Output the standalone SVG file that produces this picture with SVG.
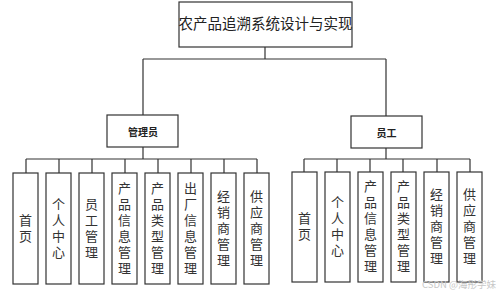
<svg xmlns="http://www.w3.org/2000/svg" width="499" height="293" viewBox="0 0 499 293">
<style>
.box{fill:#fff;stroke:#333;stroke-width:1.2}
.ln{fill:none;stroke:#333;stroke-width:1.2}
.t{font-family:"Noto Sans CJK SC","Noto Sans",sans-serif;fill:#222}
.v{font-family:"Noto Sans CJK SC","Noto Sans",sans-serif;fill:#333;font-size:13px;writing-mode:vertical-rl;text-anchor:middle;letter-spacing:3px}
</style>
<rect width="499" height="293" fill="#fff"/>
<g id="connectors">
<path class="ln" d="M265,47V59M143,59H386M143,59V115M386,59V116"/>
<path class="ln" d="M143,147V159M26,159H257M26,159V173M59,159V173M92,159V173M125,159V173M158,159V173M191,159V173M224,159V173M257,159V173"/>
<path class="ln" d="M386,148V159M304,159H470M304,159V172M337,159V172M370,159V172M403,159V172M437,159V172M470,159V172"/>
</g>
<g id="root"><rect class="box" x="179" y="2" width="173" height="45"/><text class="t" x="265.5" y="29" font-size="14.5" text-anchor="middle">农产品追溯系统设计与实现</text></g>
<g id="admin"><rect class="box" x="107" y="115" width="71" height="32"/><text class="t" x="143" y="135.5" font-size="10" font-weight="bold" text-anchor="middle">管理员</text></g>
<g id="staff"><rect class="box" x="351" y="116" width="71" height="32"/><text class="t" x="386.5" y="136.5" font-size="10" font-weight="bold" text-anchor="middle">员工</text></g>
<g id="a1"><rect class="box" x="13" y="173" width="25" height="111"/><text class="v" x="25.5" y="230">首页</text></g>
<g id="a2"><rect class="box" x="46" y="173" width="25" height="111"/><text class="v" x="58.5" y="230">个人中心</text></g>
<g id="a3"><rect class="box" x="79" y="173" width="25" height="111"/><text class="v" x="91.5" y="230">员工管理</text></g>
<g id="a4"><rect class="box" x="112" y="173" width="25" height="111"/><text class="v" x="124.5" y="230">产品信息管理</text></g>
<g id="a5"><rect class="box" x="145" y="173" width="25" height="111"/><text class="v" x="157.5" y="230">产品类型管理</text></g>
<g id="a6"><rect class="box" x="178" y="173" width="25" height="111"/><text class="v" x="190.5" y="230">出厂信息管理</text></g>
<g id="a7"><rect class="box" x="211" y="173" width="25" height="111"/><text class="v" x="223.5" y="230">经销商管理</text></g>
<g id="a8"><rect class="box" x="244" y="173" width="25" height="111"/><text class="v" x="256.5" y="230">供应商管理</text></g>
<g id="s1"><rect class="box" x="292" y="172" width="25" height="110"/><text class="v" x="304.5" y="228">首页</text></g>
<g id="s2"><rect class="box" x="325" y="172" width="25" height="110"/><text class="v" x="337.5" y="228">个人中心</text></g>
<g id="s3"><rect class="box" x="358" y="172" width="25" height="110"/><text class="v" x="370.5" y="228">产品信息管理</text></g>
<g id="s4"><rect class="box" x="391" y="172" width="25" height="110"/><text class="v" x="403.5" y="228">产品类型管理</text></g>
<g id="s5"><rect class="box" x="424" y="172" width="25" height="110"/><text class="v" x="436.5" y="228">经销商管理</text></g>
<g id="s6"><rect class="box" x="457" y="172" width="25" height="110"/><text class="v" x="469.5" y="228">供应商管理</text></g>
<text x="496" y="288" font-family="'Noto Sans CJK SC','Noto Sans',sans-serif" font-size="9.5" fill="#c8c8c8" text-anchor="end">CSDN @海彤学妹</text>
</svg>
